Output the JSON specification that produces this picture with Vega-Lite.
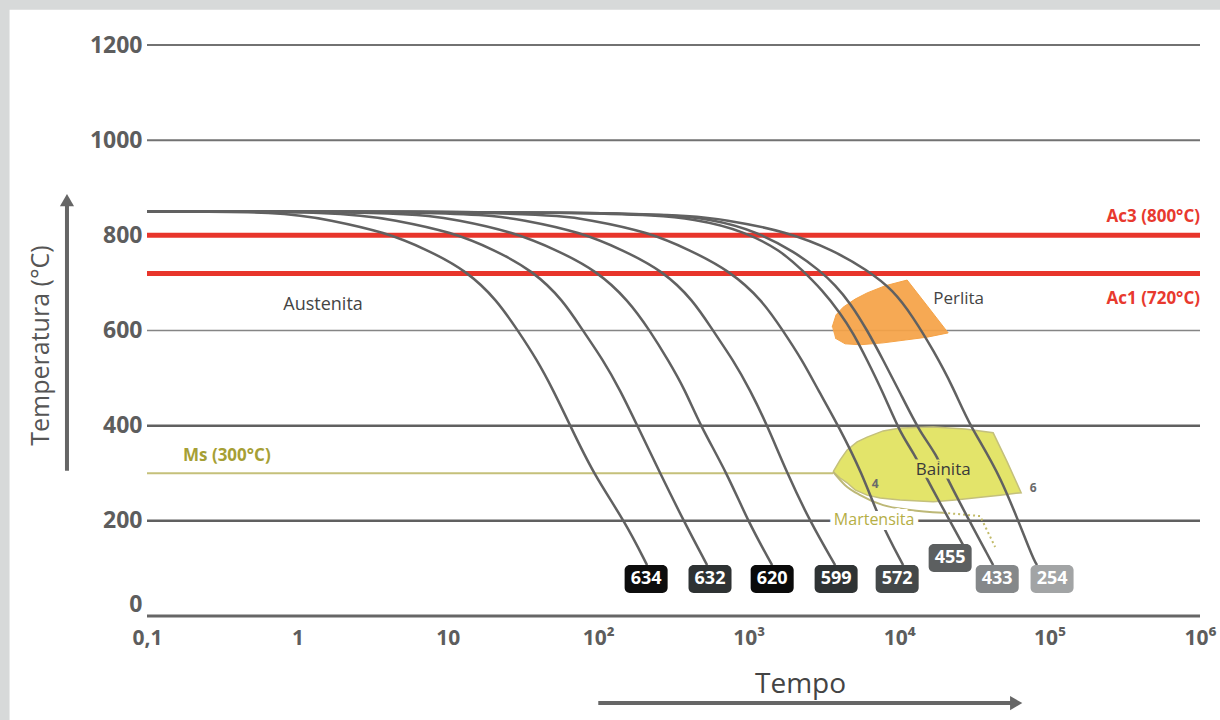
{
  "$schema": "https://vega.github.io/schema/vega-lite/v6.json",
  "width": 1053,
  "height": 571,
  "autosize": {"type": "none"},
  "padding": {"left": 147, "top": 45, "right": 20, "bottom": 104},
  "background": "#d7d9d9",
  "config": {"view": {"stroke": null}, "font": "Open Sans"},
  "datasets": {
    "curves": [
      {"c":"634","i":0,"t":0.1,"T":850},{"c":"634","i":1,"t":0.802,"T":850},{"c":"634","i":2,"t":1.647,"T":832},{"c":"634","i":3,"t":3.82,"T":807},{"c":"634","i":4,"t":7.39,"T":769},{"c":"634","i":5,"t":13.4,"T":725},{"c":"634","i":6,"t":21.2,"T":664},{"c":"634","i":7,"t":29.3,"T":599},{"c":"634","i":8,"t":39.2,"T":538},{"c":"634","i":9,"t":50.1,"T":475},{"c":"634","i":10,"t":64.9,"T":401},{"c":"634","i":11,"t":92.3,"T":300},{"c":"634","i":13,"t":150.7,"T":198},{"c":"634","i":14,"t":211,"T":107},
      {"c":"632","i":0,"t":0.1,"T":850},{"c":"632","i":1,"t":2.01,"T":850},{"c":"632","i":2,"t":4.46,"T":832},{"c":"632","i":3,"t":10.66,"T":807},{"c":"632","i":4,"t":20.6,"T":769},{"c":"632","i":5,"t":36.9,"T":725},{"c":"632","i":6,"t":58.3,"T":664},{"c":"632","i":7,"t":79.2,"T":599},{"c":"632","i":8,"t":107.6,"T":538},{"c":"632","i":9,"t":139.6,"T":475},{"c":"632","i":10,"t":181.1,"T":401},{"c":"632","i":11,"t":257.6,"T":300},{"c":"632","i":13,"t":372,"T":198},{"c":"632","i":14,"t":529,"T":107},
      {"c":"620","i":0,"t":0.1,"T":850},{"c":"620","i":1,"t":5.19,"T":850},{"c":"620","i":2,"t":12.05,"T":832},{"c":"620","i":3,"t":27.1,"T":807},{"c":"620","i":4,"t":53.2,"T":769},{"c":"620","i":5,"t":98.2,"T":725},{"c":"620","i":6,"t":157.8,"T":664},{"c":"620","i":7,"t":221,"T":599},{"c":"620","i":8,"t":291,"T":538},{"c":"620","i":9,"t":377.7,"T":475},{"c":"620","i":10,"t":475.2,"T":401},{"c":"620","i":11,"t":718.5,"T":300},{"c":"620","i":13,"t":991,"T":198},{"c":"620","i":14,"t":1431,"T":107},
      {"c":"599","i":0,"t":0.1,"T":850},{"c":"599","i":1,"t":14.05,"T":850},{"c":"599","i":2,"t":32.6,"T":832},{"c":"599","i":3,"t":75.7,"T":807},{"c":"599","i":4,"t":146.2,"T":769},{"c":"599","i":5,"t":269.7,"T":725},{"c":"599","i":6,"t":426.9,"T":664},{"c":"599","i":7,"t":579.9,"T":599},{"c":"599","i":8,"t":787.6,"T":538},{"c":"599","i":9,"t":1021.6,"T":475},{"c":"599","i":10,"t":1325,"T":401},{"c":"599","i":11,"t":1800,"T":300},{"c":"599","i":13,"t":2560,"T":198},{"c":"599","i":14,"t":3754,"T":107},
      {"c":"572","i":0,"t":0.1,"T":850},{"c":"572","i":1,"t":38,"T":850},{"c":"572","i":2,"t":90.9,"T":832},{"c":"572","i":3,"t":214.3,"T":807},{"c":"572","i":4,"t":407.8,"T":769},{"c":"572","i":5,"t":752.2,"T":725},{"c":"572","i":6,"t":1228,"T":664},{"c":"572","i":7,"t":1693,"T":599},{"c":"572","i":8,"t":2265,"T":538},{"c":"572","i":9,"t":2893,"T":475},{"c":"572","i":10,"t":3930,"T":401},{"c":"572","i":11,"t":5675,"T":300},{"c":"572","i":13,"t":7476,"T":198},{"c":"572","i":14,"t":10630,"T":107},
      {"c":"455","i":0,"t":0.1,"T":850},{"c":"455","i":1,"t":139.6,"T":850},{"c":"455","i":2,"t":475.2,"T":834},{"c":"455","i":3,"t":946.6,"T":807},{"c":"455","i":4,"t":1618,"T":769},{"c":"455","i":5,"t":2300,"T":725},{"c":"455","i":6,"t":3076,"T":685},{"c":"455","i":7,"t":4053,"T":637},{"c":"455","i":8,"t":4945,"T":595},{"c":"455","i":9,"t":6127,"T":538},{"c":"455","i":10,"t":7828,"T":469},{"c":"455","i":11,"t":10150,"T":385},{"c":"455","i":12,"t":12390,"T":345},{"c":"455","i":13,"t":16080,"T":275},{"c":"455","i":14,"t":26640,"T":149},
      {"c":"433","i":0,"t":0.1,"T":850},{"c":"433","i":1,"t":189.7,"T":850},{"c":"433","i":2,"t":597.9,"T":834},{"c":"433","i":3,"t":1137,"T":807},{"c":"433","i":4,"t":2034,"T":765},{"c":"433","i":5,"t":2983,"T":725},{"c":"433","i":6,"t":3754,"T":696},{"c":"433","i":7,"t":4723,"T":658},{"c":"433","i":8,"t":6127,"T":601},{"c":"433","i":9,"t":7828,"T":538},{"c":"433","i":10,"t":10150,"T":469},{"c":"433","i":11,"t":13790,"T":385},{"c":"433","i":12,"t":17350,"T":345},{"c":"433","i":13,"t":21830,"T":275},{"c":"433","i":14,"t":42170,"T":107},
      {"c":"254","i":0,"t":0.1,"T":850},{"c":"254","i":1,"t":257.6,"T":850},{"c":"254","i":2,"t":752.2,"T":832},{"c":"254","i":3,"t":1800,"T":807},{"c":"254","i":4,"t":3640,"T":769},{"c":"254","i":5,"t":6127,"T":727},{"c":"254","i":6,"t":9124,"T":685},{"c":"254","i":7,"t":12390,"T":628},{"c":"254","i":8,"t":16840,"T":559},{"c":"254","i":9,"t":22860,"T":481},{"c":"254","i":10,"t":29660,"T":397},{"c":"254","i":11,"t":46940,"T":300},{"c":"254","i":12,"t":77830,"T":118},{"c":"254","i":13,"t":82730,"T":107}
    ],
    "perlita": [
      {"i":0,"t":3585,"T":607},{"i":1,"t":3811,"T":633},{"i":2,"t":4243,"T":649},{"i":3,"t":5099,"T":666},{"i":4,"t":6127,"T":679},{"i":5,"t":8071,"T":694},{"i":6,"t":11300,"T":706},{"i":7,"t":15360,"T":652},{"i":8,"t":21180,"T":595},{"i":9,"t":15360,"T":586},{"i":10,"t":10960,"T":580},{"i":11,"t":7828,"T":574},{"i":12,"t":5504,"T":570},{"i":13,"t":4375,"T":572},{"i":14,"t":3754,"T":584}
    ],
    "bainita": [
      {"i":0,"t":3640,"T":303},{"i":1,"t":4053,"T":328},{"i":2,"t":4512,"T":349},{"i":3,"t":5257,"T":366},{"i":4,"t":6127,"T":376},{"i":5,"t":7828,"T":389},{"i":6,"t":10150,"T":395},{"i":7,"t":16840,"T":397},{"i":8,"t":27470,"T":393},{"i":9,"t":42170,"T":385},{"i":10,"t":52260,"T":324},{"i":11,"t":64740,"T":259},{"i":12,"t":46940,"T":254},{"i":13,"t":36180,"T":250},{"i":14,"t":23570,"T":244},{"i":15,"t":16840,"T":240},{"i":16,"t":10150,"T":244},{"i":17,"t":7476,"T":248},{"i":18,"t":6127,"T":254},{"i":19,"t":5099,"T":265},{"i":20,"t":4512,"T":280},{"i":21,"t":4053,"T":290},{"i":22,"t":3640,"T":303}
    ]
  },
  "encoding": {
    "x": {
      "field": "t", "type": "quantitative",
      "scale": {"type": "log", "domain": [0.1, 1000000], "nice": false},
      "axis": {
        "zindex": 2,
        "values": [0.1, 1, 10, 100, 1000, 10000, 100000, 1000000],
        "labelExpr": "datum.value < 0.5 ? '0,1' : datum.value < 5 ? '1' : datum.value < 50 ? '10' : datum.value < 500 ? '10²' : datum.value < 5000 ? '10³' : datum.value < 50000 ? '10⁴' : datum.value < 500000 ? '10⁵' : '10⁶'",
        "grid": false, "domain": false, "ticks": false,
        "labelFont": "Open Sans", "labelFontSize": 21, "labelFontWeight": "bold", "labelColor": "#5d5d5d",
        "labelPadding": 11, "labelFlush": false, "labelOverlap": false, "labelBound": false,
        "title": "Tempo", "titleFont": "Open Sans", "titleFontSize": 28, "titleFontWeight": "normal", "titleColor": "#444444",
        "titleX": 653, "titleY": 68, "titleBaseline": "middle", "titleAlign": "center"
      }
    },
    "y": {
      "field": "T", "type": "quantitative",
      "scale": {"domain": [0, 1200], "nice": false, "zero": false},
      "axis": {
        "zindex": 2,
        "values": [0, 200, 400, 600, 800, 1000, 1200],
        "format": "d",
        "grid": false, "domain": false, "ticks": false,
        "labelFont": "Open Sans", "labelFontSize": 23, "labelFontWeight": "bold", "labelColor": "#5d5d5d", "labelPadding": 5,
        "labelBaseline": {"condition": {"test": "datum.value == 0", "value": "bottom"}, "value": "middle"},
        "title": "Temperatura (°C)", "titleFont": "Open Sans", "titleFontSize": 25, "titleFontWeight": "normal", "titleColor": "#555555",
        "titleAngle": 270, "titleX": -107, "titleY": 300, "titleAlign": "center", "titleBaseline": "middle"
      }
    }
  },
  "layer": [
    {
      "data": {"values": [{"t": 0.0122, "t2": 1370000, "T": 1274, "T2": -219}]},
      "mark": {"type": "rect", "fill": "#ffffff", "clip": false},
      "encoding": {"x2": {"field": "t2"}, "y2": {"field": "T2"}}
    },
    {
      "data": {"values": [{"T": 1200, "t": 0.1, "t2": 1000000}, {"T": 1000, "t": 0.1, "t2": 1000000}]},
      "mark": {"type": "rule", "stroke": "#727272", "strokeWidth": 2},
      "encoding": {"x2": {"field": "t2"}}
    },
    {
      "data": {"values": [{"T": 600, "t": 0.1, "t2": 1000000}]},
      "mark": {"type": "rule", "stroke": "#858585", "strokeWidth": 1.6},
      "encoding": {"x2": {"field": "t2"}}
    },
    {
      "data": {"values": [{"T": 400, "t": 0.1, "t2": 1000000}, {"T": 200, "t": 0.1, "t2": 1000000}]},
      "mark": {"type": "rule", "stroke": "#606060", "strokeWidth": 2.5},
      "encoding": {"x2": {"field": "t2"}}
    },
    {
      "data": {"values": [{"T": 0, "t": 0.1, "t2": 1000000}]},
      "mark": {"type": "rule", "stroke": "#666666", "strokeWidth": 3},
      "encoding": {"x2": {"field": "t2"}}
    },
    {
      "data": {"name": "perlita"},
      "mark": {"type": "line", "fill": "#f5a347", "stroke": "#f5a347", "strokeWidth": 1, "fillOpacity": 0.93, "interpolate": "linear"},
      "encoding": {"order": {"field": "i"}}
    },
    {
      "data": {"name": "bainita"},
      "mark": {"type": "line", "fill": "#e3e46a", "stroke": "#c4c07c", "strokeWidth": 1.5, "interpolate": "linear"},
      "encoding": {"order": {"field": "i"}}
    },
    {
      "data": {"values": [{"i": 0, "t": 3640, "T": 303}, {"i": 1, "t": 4375, "T": 275}, {"i": 2, "t": 5504, "T": 254}, {"i": 3, "t": 7828, "T": 233}, {"i": 4, "t": 11830, "T": 223}, {"i": 5, "t": 19620, "T": 217}]},
      "mark": {"type": "line", "stroke": "#bdb877", "strokeWidth": 2, "interpolate": "monotone"},
      "encoding": {"order": {"field": "i"}}
    },
    {
      "data": {"values": [{"i": 0, "t": 19620, "T": 217}, {"i": 1, "t": 34560, "T": 210}, {"i": 2, "t": 43470, "T": 145}]},
      "mark": {"type": "line", "stroke": "#c2bb6a", "strokeWidth": 2, "strokeDash": [2, 3]},
      "encoding": {"order": {"field": "i"}}
    },
    {
      "data": {"values": [{"T": 300, "t": 0.1, "t2": 3640}]},
      "mark": {"type": "rule", "stroke": "#c5c07a", "strokeWidth": 2},
      "encoding": {"x2": {"field": "t2"}}
    },
    {
      "data": {"values": [{"T": 800, "t": 0.1, "t2": 1000000}, {"T": 720, "t": 0.1, "t2": 1000000}]},
      "mark": {"type": "rule", "stroke": "#e8352b", "strokeWidth": 5},
      "encoding": {"x2": {"field": "t2"}}
    },
    {
      "data": {"name": "curves"},
      "mark": {"type": "line", "stroke": "#616161", "strokeWidth": 2.5, "interpolate": "basis"},
      "encoding": {"detail": {"field": "c"}, "order": {"field": "i"}}
    },
    {
      "data": {"values": [{"t": 0.02938, "T": 305, "T2": 865}]},
      "mark": {"type": "rule", "stroke": "#666666", "strokeWidth": 4, "clip": false},
      "encoding": {"y2": {"field": "T2"}}
    },
    {
      "data": {"values": [{"t": 0.02938, "T": 874}]},
      "mark": {"type": "point", "shape": "triangle-up", "filled": true, "size": 200, "color": "#666666", "opacity": 1, "clip": false}
    },
    {
      "data": {"values": [{"T": -183, "t": 100, "t2": 56360}]},
      "mark": {"type": "rule", "stroke": "#666666", "strokeWidth": 4, "clip": false},
      "encoding": {"x2": {"field": "t2"}}
    },
    {
      "data": {"values": [{"t": 59980, "T": -183}]},
      "mark": {"type": "point", "shape": "triangle-right", "filled": true, "size": 200, "color": "#666666", "opacity": 1, "clip": false}
    },
    {
      "data": {"values": [{"txt": "Austenita", "t": 1.48, "T": 654}]},
      "mark": {"type": "text", "font": "Open Sans", "fontSize": 18, "color": "#444444", "baseline": "middle"},
      "encoding": {"text": {"field": "txt"}}
    },
    {
      "data": {"values": [{"txt": "Perlita", "t": 16840, "T": 666}]},
      "mark": {"type": "text", "font": "Open Sans", "fontSize": 17, "color": "#444444", "baseline": "middle", "align": "left"},
      "encoding": {"text": {"field": "txt"}}
    },
    {
      "data": {"values": [{"txt": "Bainita", "t": 19620, "T": 307}]},
      "mark": {"type": "text", "font": "Open Sans", "fontSize": 17, "fill": "#e3e46a", "stroke": "#e3e46a", "strokeWidth": 7, "baseline": "middle"},
      "encoding": {"text": {"field": "txt"}}
    },
    {
      "data": {"values": [{"txt": "Bainita", "t": 19620, "T": 307}]},
      "mark": {"type": "text", "font": "Open Sans", "fontSize": 17, "color": "#3a3a3a", "baseline": "middle"},
      "encoding": {"text": {"field": "txt"}}
    },
    {
      "data": {"values": [{"txt": "Martensita", "t": 6820, "T": 202}]},
      "mark": {"type": "text", "font": "Open Sans", "fontSize": 16, "fill": "#ffffff", "stroke": "#ffffff", "strokeWidth": 10, "baseline": "middle"},
      "encoding": {"text": {"field": "txt"}}
    },
    {
      "data": {"values": [{"txt": "Martensita", "t": 6820, "T": 202}]},
      "mark": {"type": "text", "font": "Open Sans", "fontSize": 16, "color": "#b5ae45", "baseline": "middle"},
      "encoding": {"text": {"field": "txt"}}
    },
    {
      "data": {"values": [{"txt": "4", "t": 6924, "T": 277}, {"txt": "6", "t": 77830, "T": 269}]},
      "mark": {"type": "text", "font": "Open Sans", "fontSize": 12, "fontWeight": "bold", "color": "#6a6a6a", "baseline": "middle"},
      "encoding": {"text": {"field": "txt"}}
    },
    {
      "data": {"values": [{"txt": "Ms (300°C)", "t": 0.1735, "T": 336}]},
      "mark": {"type": "text", "font": "Open Sans", "fontSize": 17, "fontWeight": "bold", "color": "#a69f35", "baseline": "middle", "align": "left"},
      "encoding": {"text": {"field": "txt"}}
    },
    {
      "data": {"values": [{"txt": "Ac3 (800°C)", "t": 1000000, "T": 839}, {"txt": "Ac1 (720°C)", "t": 1000000, "T": 666}]},
      "mark": {"type": "text", "font": "Open Sans", "fontSize": 17, "fontWeight": "bold", "color": "#e8392e", "baseline": "middle", "align": "right"},
      "encoding": {"text": {"field": "txt"}}
    },
    {
      "data": {"values": [{"h": "634", "t": 208, "T": 78}, {"h": "632", "t": 553, "T": 78}, {"h": "620", "t": 1432, "T": 78}, {"h": "599", "t": 3811, "T": 78}, {"h": "572", "t": 9700, "T": 78}, {"h": "455", "t": 21830, "T": 122}, {"h": "433", "t": 44870, "T": 78}, {"h": "254", "t": 103900, "T": 78}]},
      "layer": [
        {
          "mark": {"type": "point", "shape": "M -0.76 -0.651 L 0.76 -0.651 A 0.24 0.24 0 0 1 1 -0.411 L 1 0.411 A 0.24 0.24 0 0 1 0.76 0.651 L -0.76 0.651 A 0.24 0.24 0 0 1 -1 0.411 L -1 -0.411 A 0.24 0.24 0 0 1 -0.76 -0.651 Z", "filled": true, "size": 1849, "opacity": 1, "strokeWidth": 0},
          "encoding": {
            "color": {"field": "h", "type": "nominal", "legend": null,
              "scale": {"domain": ["634", "632", "620", "599", "572", "455", "433", "254"], "range": ["#0d0d0d", "#2e3233", "#0a0a0a", "#2f3334", "#444849", "#5c5f60", "#85888a", "#a2a4a5"]}}
          }
        },
        {
          "mark": {"type": "text", "font": "Open Sans", "fontSize": 18, "fontWeight": "bold", "color": "#ffffff", "baseline": "middle"},
          "encoding": {"text": {"field": "h"}}
        }
      ]
    }
  ]
}
